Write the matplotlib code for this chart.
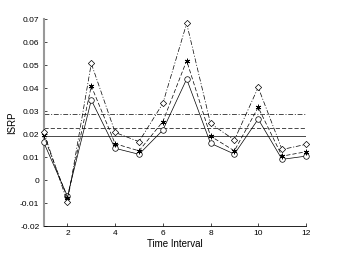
import matplotlib
matplotlib.use("Agg")
import matplotlib.pyplot as plt
from matplotlib.ticker import FormatStrFormatter

plt.rcParams['font.family'] = ['Liberation Sans', 'DejaVu Sans']

x = [1, 2, 3, 4, 5, 6, 7, 8, 9, 10, 11, 12]
s_circle = [0.0165, -0.0070, 0.0348, 0.0138, 0.0112, 0.0217, 0.0439, 0.0160, 0.0113, 0.0265, 0.0090, 0.0104]
s_star = [0.0195, -0.0078, 0.0409, 0.0158, 0.0127, 0.0254, 0.0519, 0.0191, 0.0127, 0.0316, 0.0104, 0.0123]
s_diamond = [0.0210, -0.0096, 0.0507, 0.0207, 0.0167, 0.0333, 0.0681, 0.0246, 0.0174, 0.0403, 0.0133, 0.0155]
h_solid = 0.0190
h_dashed = 0.0225
h_dashdot = 0.0286

xticks = [2, 4, 6, 8, 10, 12]
yticks = [-0.02, -0.01, 0, 0.01, 0.02, 0.03, 0.04, 0.05, 0.06, 0.07]

fig = plt.figure(figsize=(3.38, 2.54), dpi=100)
ax = fig.add_axes([0.129, 0.110, 0.776, 0.815])

lw = 0.5
dash = (0, (6, 3))
dashdot = (0, (7, 2.5, 1.5, 2.5))
ax.plot(x, s_circle, color='black', ls='-', lw=lw, marker='o', ms=4, mfc='white', mec='black', mew=0.5, clip_on=False, zorder=3)
ax.plot(x, s_star, color='black', ls=dash, lw=lw, marker=(6, 2, 0), ms=4, mec='black', mew=0.6, clip_on=False, zorder=3)
ax.plot(x, s_diamond, color='black', ls=dashdot, lw=lw, marker='D', ms=3.2, mfc='white', mec='black', mew=0.5, clip_on=False, zorder=3)

ax.axhline(h_solid, color='black', ls='-', lw=lw)
ax.axhline(h_dashed, color='black', ls=dash, lw=lw)
ax.axhline(h_dashdot, color='black', ls=dashdot, lw=lw)

ax.set_xlim(1, 12)
ax.set_ylim(-0.02, 0.07)
ax.set_xticks(xticks)
ax.set_yticks(yticks)
ax.yaxis.set_major_formatter(FormatStrFormatter('%g'))
ax.tick_params(direction='in', length=2.5, width=0.5, labelsize=6, pad=3)

ax.spines['top'].set_visible(False)
ax.spines['right'].set_visible(False)
ax.spines['left'].set_color('#999999')
ax.spines['left'].set_linewidth(1.5)
ax.spines['bottom'].set_linewidth(0.6)

ax.set_xlabel('Time Interval', fontsize=7, labelpad=1)
ax.set_ylabel('ISRP', fontsize=7, labelpad=2)

fig.savefig('out.png', dpi=100)
